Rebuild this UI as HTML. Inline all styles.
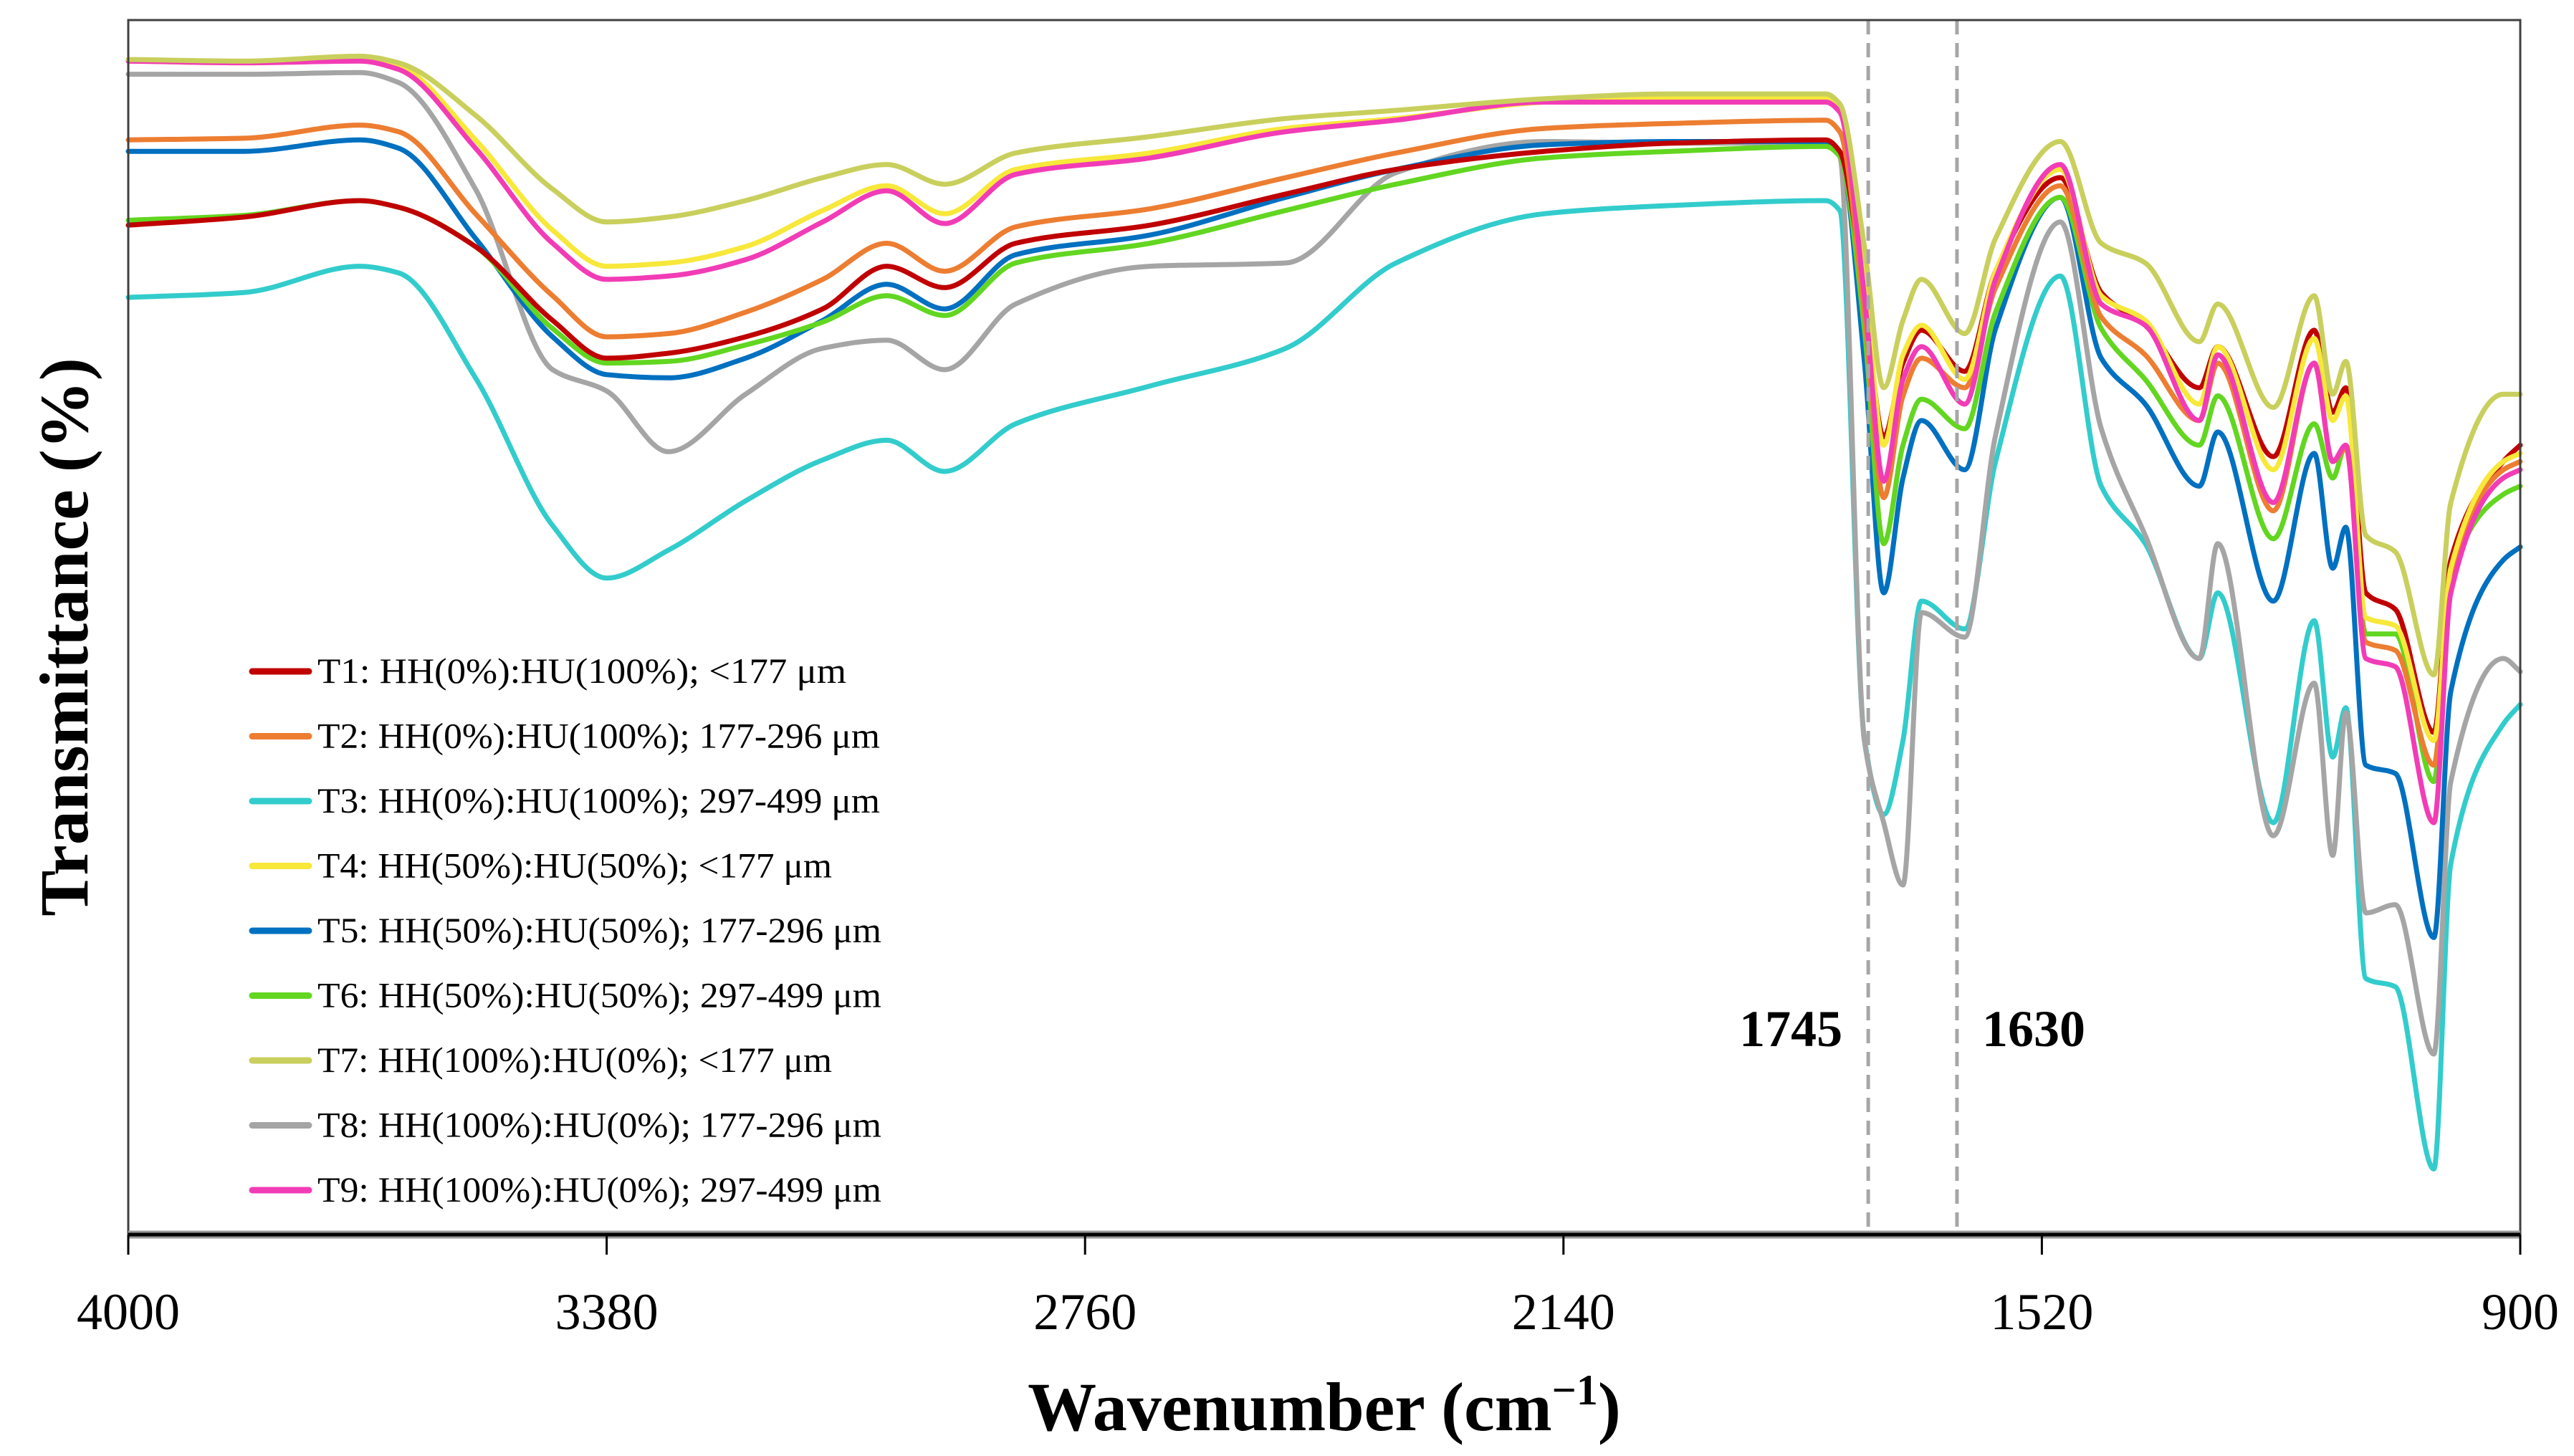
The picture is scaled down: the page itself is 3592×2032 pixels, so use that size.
<!DOCTYPE html>
<html><head><meta charset="utf-8"><style>
html,body{margin:0;padding:0;background:#fff;}
svg{display:block;}
text{font-family:"Liberation Serif",serif;}
</style></head><body>
<svg id="chart" width="3592" height="2032" viewBox="0 0 3592 2032" xmlns="http://www.w3.org/2000/svg">
<rect x="0" y="0" width="3592" height="2032" fill="#fff"/>
<g id="series"></g>
<g id="axes"></g>
<g id="legend"></g>
<text x="0" y="0" transform="translate(122,889) rotate(-90)" text-anchor="middle" font-size="96" font-weight="bold">Transmittance (%)</text>
<text x="1848" y="1996" text-anchor="middle" font-size="96" font-weight="bold">Wavenumber (cm<tspan font-size="60" dy="-36">−1</tspan><tspan dy="36">)</tspan></text>
</svg>
<script>
const wavenumbers=[4000,3850,3700,3650,3550,3450,3380,3300,3200,3100,3017,2942,2850,2676,2500,2357,2165,2000,1800,1782,1750,1725,1700,1676,1620,1580,1496,1443,1386,1316,1292,1220,1167,1143,1126,1100,1062,1012,990,922,900];
const t1=[615,620,630,626,602,557,534,537,547,564,590,577,604,615,634,649,660,665,667,660,572,486,531,551,526,587,644,574,554,516,541,474,551,501,516,391,381,306,411,471,481];
const t2=[667,668,676,672,622,572,547,549,562,582,604,587,614,625,644,659,674,677,679,672,562,449,511,534,516,577,639,559,536,496,531,441,531,471,479,361,356,286,401,466,471];
const t3=[571,574,590,586,522,432,400,417,447,472,484,465,494,517,540,592,622,627,630,624,302,256,301,386,369,471,584,456,421,351,391,251,374,291,321,156,151,40,226,311,323];
const t4=[715,714,716,712,667,612,590,592,602,624,639,622,649,659,674,680,690,693,693,686,582,481,536,554,521,587,649,572,557,506,541,466,546,496,511,376,371,301,406,471,476];
const t5=[660,660,667,662,607,547,524,522,534,557,579,564,597,609,632,649,664,666,666,660,532,391,461,496,466,552,632,534,506,456,489,386,476,406,431,286,281,181,331,411,419];
const t6=[618,621,630,626,602,552,531,532,542,556,572,560,592,604,624,640,656,660,663,657,552,421,481,509,491,562,632,552,521,481,511,424,494,461,481,366,366,276,401,451,456];
const t7=[716,715,718,714,682,637,617,620,630,644,652,640,659,669,680,685,692,695,695,689,602,516,557,582,549,607,666,604,592,544,567,504,572,512,532,426,416,341,446,512,512];
const t8=[707,707,708,702,637,527,514,477,512,540,545,527,567,590,592,647,666,665,665,657,301,251,213,379,364,487,617,491,426,351,421,243,336,231,318,196,201,110,276,351,343];
const t9=[715,714,715,710,662,604,582,584,594,617,636,616,646,656,672,679,690,690,690,684,572,459,521,541,506,582,652,567,554,496,536,446,531,471,481,351,346,251,391,461,466];
const seriesNames=["T1: HH(0%):HU(100%); <177 μm","T2: HH(0%):HU(100%); 177-296 μm","T3: HH(0%):HU(100%); 297-499 μm","T4: HH(50%):HU(50%); <177 μm","T5: HH(50%):HU(50%); 177-296 μm","T6: HH(50%):HU(50%); 297-499 μm","T7: HH(100%):HU(0%); <177 μm","T8: HH(100%):HU(0%); 177-296 μm","T9: HH(100%):HU(0%); 297-499 μm"];
const xTicks=[4000,3380,2760,2140,1520,900];
const markers=[1745,1630];

const NS="http://www.w3.org/2000/svg";
const L=179,R=3517,T=28,B=1723;
const X=w=>L+(4000-w)/3100*(R-L);
const Y=v=>B-v/740*(B-T);
const data=[t1,t2,t3,t4,t5,t6,t7,t8,t9];
const colors=["#c00000","#ed7d31","#33cccc","#f7e83a","#0070c0","#62d620","#c9cf5c","#a5a5a5","#f23cb6"];
const slugs=["t1","t2","t3","t4","t5","t6","t7","t8","t9"];
const widths=[738,785,785,718,787,787,718,787,787];
function mk(tag,attrs,parent){const e=document.createElementNS(NS,tag);for(const k in attrs)e.setAttribute(k,attrs[k]);parent.appendChild(e);return e;}
function pathFor(vals){
  const xs=wavenumbers.map(X), ys=vals.map(Y), n=xs.length;
  const d=[],m=[];
  for(let i=0;i<n-1;i++)d.push((ys[i+1]-ys[i])/(xs[i+1]-xs[i]));
  m[0]=d[0];m[n-1]=d[n-2];
  for(let i=1;i<n-1;i++){
    if(d[i-1]*d[i]<=0)m[i]=0;
    else{const w1=2*(xs[i+1]-xs[i])+(xs[i]-xs[i-1]),w2=(xs[i+1]-xs[i])+2*(xs[i]-xs[i-1]);m[i]=(w1+w2)/(w1/d[i-1]+w2/d[i]);}
  }
  let s="M"+xs[0].toFixed(1)+","+ys[0].toFixed(1);
  for(let i=0;i<n-1;i++){
    const h=xs[i+1]-xs[i];
    s+=" C"+(xs[i]+h/3).toFixed(1)+","+(ys[i]+m[i]*h/3).toFixed(1)+" "+(xs[i+1]-h/3).toFixed(1)+","+(ys[i+1]-m[i+1]*h/3).toFixed(1)+" "+xs[i+1].toFixed(1)+","+ys[i+1].toFixed(1);
  }
  return s;
}
const sg=document.getElementById("series");
const order=[2,7,4,5,0,1,3,8,6];
order.forEach(i=>{
  const el=mk("path",{d:pathFor(data[i]),fill:"none",stroke:colors[i],"stroke-width":7,"stroke-linejoin":"round","stroke-linecap":"round"},sg);
  
  
});
const ag=document.getElementById("axes");
markers.forEach(m=>{
  const el=mk("line",{x1:X(m),x2:X(m),y1:T,y2:B,stroke:"#a6a6a6","stroke-width":5,"stroke-dasharray":"20 12"},ag);
  
  
});
const m1=mk("text",{x:X(1745)-36,y:1460,"text-anchor":"end","font-size":72,"font-weight":"bold"},ag);m1.textContent="1745";


const m2=mk("text",{x:X(1630)+35,y:1460,"text-anchor":"start","font-size":72,"font-weight":"bold"},ag);m2.textContent="1630";


const fr=mk("path",{d:`M${L},${B} L${L},${T} L${R},${T} L${R},${B}`,fill:"none",stroke:"#404040","stroke-width":3},ag);


const sh=mk("line",{x1:L,x2:R,y1:B,y2:B,stroke:"#9a9a9a","stroke-width":11},ag);


const ax=mk("line",{x1:L,x2:R,y1:B,y2:B,stroke:"#000","stroke-width":5},ag);


xTicks.forEach(t=>{
  const tk=mk("line",{x1:X(t),x2:X(t),y1:B,y2:B+28,stroke:"#000","stroke-width":3},ag);
  
  
  const tl=mk("text",{x:X(t),y:1855,"text-anchor":"middle","font-size":72},ag);tl.textContent=t;
  
  
});
const lg=document.getElementById("legend");
seriesNames.forEach((n,i)=>{
  const cy=937+i*90.5;
  const sw=mk("line",{x1:352,x2:431,y1:cy,y2:cy,stroke:colors[i],"stroke-width":9,"stroke-linecap":"round"},lg);
  
  
  const tx=mk("text",{x:443,y:cy+16,"font-size":50,textLength:widths[i],lengthAdjust:"spacingAndGlyphs"},lg);tx.textContent=n;
  
  
});
</script>
</body></html>
